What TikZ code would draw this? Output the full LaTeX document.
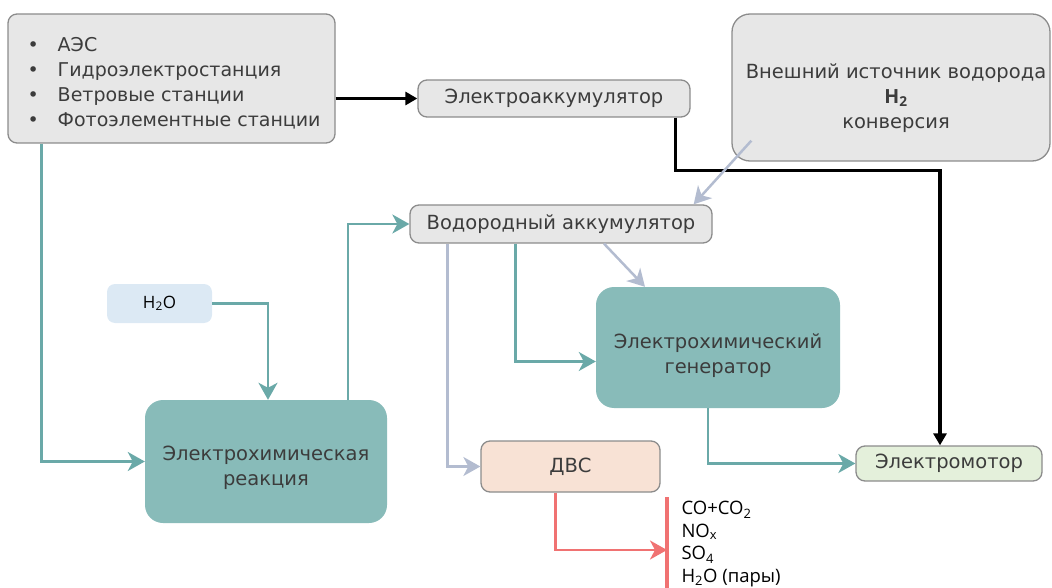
\documentclass[tikz,border=0pt]{standalone}
\usepackage{fontspec}
\setmainfont{DejaVu Sans}
\newfontfamily\chemfont{Open Sans}
\usetikzlibrary{arrows.meta}

\definecolor{boxgray}{HTML}{E7E7E7}
\definecolor{edgegray}{HTML}{8C8C8C}
\definecolor{txtgray}{HTML}{3C3C3C}
\definecolor{tealfill}{HTML}{88BBB9}
\definecolor{tealline}{HTML}{6AA9A8}
\definecolor{waterfill}{HTML}{DCE9F4}
\definecolor{icefill}{HTML}{F8E2D5}
\definecolor{motorfill}{HTML}{E4F0DB}
\definecolor{hgas}{HTML}{B3BCD0}
\definecolor{exhaust}{HTML}{F07272}

\tikzset{
  graybox/.style={draw=edgegray, line width=1.3pt, fill=boxgray, rounded corners=9pt,
    text=txtgray, align=center, font=\fontsize{19.5}{25}\selectfont},
  tealbox/.style={fill=tealfill, rounded corners=18pt},
  boxtext/.style={text=txtgray, align=center, font=\fontsize{19.5}{25}\selectfont},
  tealflow/.style={draw=tealline, line width=2.5pt, -{Stealth[length=17pt,width=19pt,inset=5pt]}},
  gasflow/.style={draw=hgas, line width=2.5pt, -{Stealth[length=17pt,width=19pt,inset=5pt]}},
  powerflow/.style={draw=black, line width=3.5pt, -{Triangle[length=12pt,width=13pt]}},
  exhaustflow/.style={draw=exhaust, line width=2.5pt, -{Stealth[length=17pt,width=19pt,inset=5pt]}}
}

\begin{document}
\begin{tikzpicture}[x=1pt, y=-1pt]
 \useasboundingbox (0,0) rectangle (1052,588);

 % boxes
 \node (src) [graybox, minimum width=327pt, minimum height=129pt] at (171.5,78.5) {};
 \node (srclist) [boxtext, anchor=west, align=left, font=\fontsize{19}{25}\selectfont] at (24,83)
   {\textbullet\quad АЭС\\ \textbullet\quad Гидроэлектростанция\\
    \textbullet\quad Ветровые станции\\ \textbullet\quad Фотоэлементные станции};
 \node (eacc) [graybox, minimum width=272pt, minimum height=37pt] at (554,98.5) {Электроаккумулятор};
 \node (ext) [graybox, minimum width=318pt, minimum height=147pt, rounded corners=18pt] at (891,87.5) {};
 \node (exttext) [boxtext] at (896,98)
   {Внешний источник водорода\\ {\chemfont\bfseries H\textsubscript{2}}\\ конверсия};
 \node (hacc) [graybox, minimum width=302pt, minimum height=38pt] at (561,224) {Водородный аккумулятор};
 \node (water) [fill=waterfill, rounded corners=8pt, minimum width=105pt, minimum height=39pt,
   text=black, font=\chemfont\fontsize{17}{20}\selectfont] at (159.5,303.5) {H\textsubscript{2}O\hspace{10pt}};
 \node (react) [tealbox, minimum width=242pt, minimum height=123pt] at (266,461.5) {};
 \node (reacttext) [boxtext] at (266,468) {Электрохимическая\\ реакция};
 \node (gen) [tealbox, minimum width=244pt, minimum height=121pt] at (718,347.5) {};
 \node (gentext) [boxtext] at (718,355.5) {Электрохимический\\ генератор};
 \node (ice) [graybox, fill=icefill, minimum width=179pt, minimum height=51pt] at (570.5,466.5) {ДВС};
 \node (motor) [graybox, fill=motorfill, minimum width=186pt, minimum height=35pt] at (949,463.5) {Электромотор};

 % exhaust bar and gases
 \coordinate (bartop) at (667,497);
 \coordinate (barbot) at (667,588);
 \coordinate (barin) at (667,550);
 \draw [exhaust, line width=4pt] (bartop) -- (barbot);
 \node (gas) [anchor=west, align=left, text=black, font=\chemfont\fontsize{18.5}{22.5}\selectfont] at (678,544)
   {CO+CO\textsubscript{2}\\ NO\textsubscript{x}\\ SO\textsubscript{4}\\ H\textsubscript{2}O (пары)};

 % connectors
 \draw [powerflow] (src.east |- eacc.west) -- (eacc.west);
 \draw [powerflow] ([xshift=-15pt]eacc.south east) -- ++(0,53) -| ([xshift=-9pt]motor.north);
 \draw [gasflow] ([shift={(20pt,21pt)}]ext.south west) -- ([xshift=-19pt]hacc.north east);
 \draw [tealflow] ([xshift=34pt]src.south west) |- (react.west);
 \draw [tealflow] (water.east) -| ([xshift=2pt]react.north);
 \draw [tealflow] ([xshift=82pt]react.north) |- (hacc.west);
 \draw [gasflow] ([xshift=38pt]hacc.south west) |- (ice.west);
 \draw [tealflow] ([xshift=106pt]hacc.south west) |- ([yshift=-14pt]gen.west);
 \draw [gasflow] ([xshift=43pt]hacc.south) -- ([xshift=-73pt]gen.north);
 \draw [tealflow] ([xshift=-10pt]gen.south) |- (motor.west);
 \draw [exhaustflow] ([xshift=-15pt]ice.south) |- (barin);
\end{tikzpicture}
\end{document}
